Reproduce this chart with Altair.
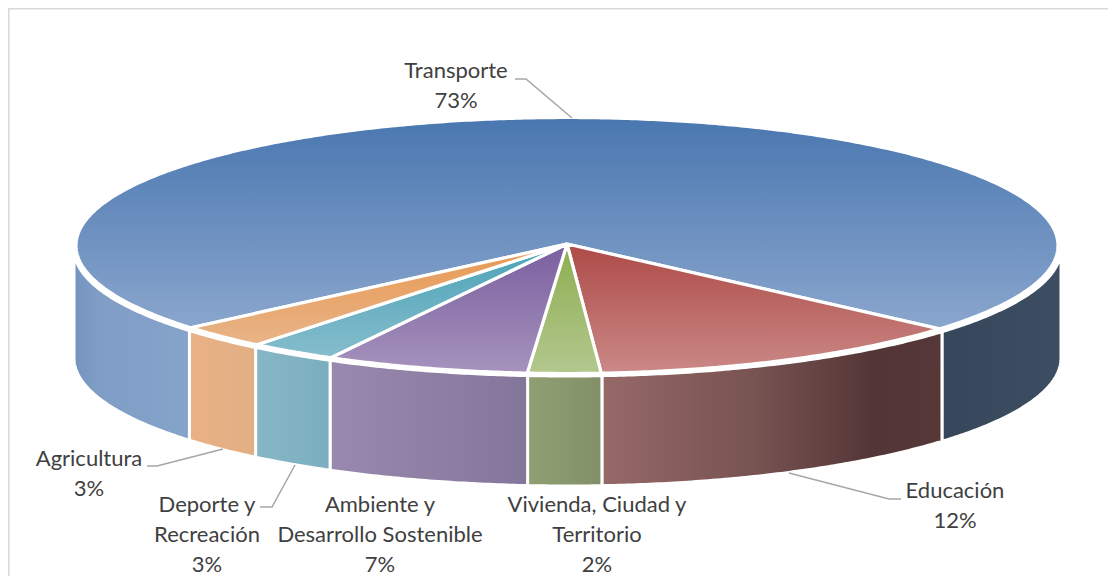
import math
import altair as alt
import pandas as pd

# Values (wedge shares; printed labels are rounded)
categories = ["Transporte", "Educación", "Vivienda, Ciudad y Territorio",
              "Ambiente y Desarrollo Sostenible", "Deporte y Recreación", "Agricultura"]
shares = [72.4, 12.6, 2.4, 6.7, 2.9, 3.0]
pct_labels = ["73%", "12%", "2%", "7%", "3%", "3%"]
label_lines = [["Transporte"], ["Educación"], ["Vivienda, Ciudad y", "Territorio"],
               ["Ambiente y", "Desarrollo Sostenible"], ["Deporte y", "Recreación"], ["Agricultura"]]

# Presentation
label_anchor = [(456, 71), (955, 491), (597, 505), (380, 505), (207, 505), (89, 459)]
leaders = [
    [(515, 79), (526, 79), (572, 118)],
    [(789, 473), (889, 499), (901, 499)],
    [(260, 507), (272, 507), (295, 465)],
    [(147, 466), (157, 466), (223, 449)],
]
top_colors = {
    "Transporte": ["#4a77b0", "#8aa6cd"],
    "Educación": ["#ae4a47", "#ca8987"],
    "Vivienda, Ciudad y Territorio": ["#8dae50", "#b3c78e"],
    "Ambiente y Desarrollo Sostenible": ["#7a5f9e", "#a693bd"],
    "Deporte y Recreación": ["#4aa2b8", "#86bdcc"],
    "Agricultura": ["#e9974f", "#e8b488"],
}
side_colors = {
    "Transporte-left": [(0, "#7494bf"), (0.2, "#7f9dc5"), (1, "#86a3ca")],
    "Transporte-right": [(0, "#36475b"), (1, "#3d4e63")],
    "Educación": [(0, "#966967"), (0.45, "#775351"), (0.8, "#543536"), (1, "#573839")],
    "Vivienda, Ciudad y Territorio": [(0, "#8fa072"), (1, "#828f69")],
    "Ambiente y Desarrollo Sostenible": [(0, "#9a89ae"), (1, "#84759a")],
    "Deporte y Recreación": [(0, "#87b7c7"), (1, "#7aaebe")],
    "Agricultura": [(0, "#e9b286"), (1, "#e2ae84")],
}
START = 140.0
CX, CY, RX, RY = 567.0, 245.5, 491.0, 128.0
APEX = (567.0, 244.0)
WX, WRX, WBOT, WRY_B = 567.5, 493.5, 358.0, 128.0
WTOP, WRY_T, WSTART = 249.0, 127.0, 258.0

x_enc = alt.X("x:Q", axis=None, scale=alt.Scale(domain=[8, 1108], nice=False, zero=False))
y_enc = alt.Y("y:Q", axis=None, scale=alt.Scale(domain=[8, 576], nice=False, zero=False, reverse=True))


def grad(stops, horizontal):
    return alt.Gradient(
        gradient="linear",
        stops=[alt.GradientStop(color=c, offset=o) for o, c in stops],
        x1=0, y1=0, x2=1 if horizontal else 0, y2=0 if horizontal else 1,
    )


def polygon(points, fill, width=3.0):
    df = pd.DataFrame([{"x": p[0], "y": p[1], "i": i} for i, p in enumerate(points)])
    return alt.Chart(df).mark_line(
        fill=fill, stroke="white", strokeWidth=width, strokeJoin="miter", interpolate="linear"
    ).encode(x=x_enc, y=y_enc, order="i:Q")


def frange(a, b):
    n = max(2, int(abs(b - a) * 2))
    return [a + (b - a) * k / n for k in range(n + 1)]


# wedge boundaries from the shares
bounds = []
a = START
for s in shares:
    bounds.append((a, a + s * 3.6))
    a += s * 3.6

layers = []
# frame
frame = pd.DataFrame({"x": [8.8, 8.8, 1108], "y": [576, 8.7, 8.7], "i": [0, 1, 2]})
layers.append(alt.Chart(frame).mark_line(stroke="#d9d9d9", strokeWidth=1.6).encode(x=x_enc, y=y_enc, order="i:Q"))


# side walls
def wall(a0, a1, stops):
    ts = frange(a0, a1)
    up = [(WX + WRX * math.cos(math.radians(t)),
           max(WSTART, WTOP + WRY_T * math.sin(math.radians(t)))) for t in ts]
    dn = [(WX + WRX * math.cos(math.radians(t)), WBOT + WRY_B * math.sin(math.radians(t))) for t in reversed(ts)]
    pts = up + dn + [up[0]]
    return polygon(pts, grad(stops, True))


for cat, (a0, a1) in zip(categories, bounds):
    for lo, hi, suffix in [(0, 180, "-left"), (360, 540, "-right")]:
        s, e = max(a0, lo), min(a1, hi)
        if e > s:
            key = cat + suffix if cat == "Transporte" else cat
            layers.append(wall(s, e, side_colors[key]))

# top wedges
for cat, (a0, a1) in zip(categories, bounds):
    arc = [(CX + RX * math.cos(math.radians(t)), CY + RY * math.sin(math.radians(t))) for t in frange(a0, a1)]
    pts = [APEX] + arc + [APEX]
    c = top_colors[cat]
    layers.append(polygon(pts, grad([(0, c[0]), (1, c[1])], False), width=3.2))

# leader lines
rows = []
for k, pts in enumerate(leaders):
    for i, p in enumerate(pts):
        rows.append({"x": p[0], "y": p[1], "i": i, "k": k})
layers.append(alt.Chart(pd.DataFrame(rows)).mark_line(stroke="#a6a6a6", strokeWidth=1.5).encode(
    x=x_enc, y=y_enc, order="i:Q", detail="k:N"))

# labels
rows = []
for lines, pct, (lx, ly) in zip(label_lines, pct_labels, label_anchor):
    for j, t in enumerate(lines + [pct]):
        rows.append({"x": lx, "y": ly + 30 * j, "t": t})
layers.append(alt.Chart(pd.DataFrame(rows)).mark_text(
    font="Lato", fontSize=22, color="#404040", align="center", baseline="middle"
).encode(x=x_enc, y=y_enc, text="t:N"))

chart = alt.layer(*layers).properties(
    width=1100, height=568, padding=0, autosize=alt.AutoSizeParams(type="none")
).configure_view(stroke=None).configure(background="white")

chart.save("out.html", embed_options={"renderer": "svg", "actions": False})
